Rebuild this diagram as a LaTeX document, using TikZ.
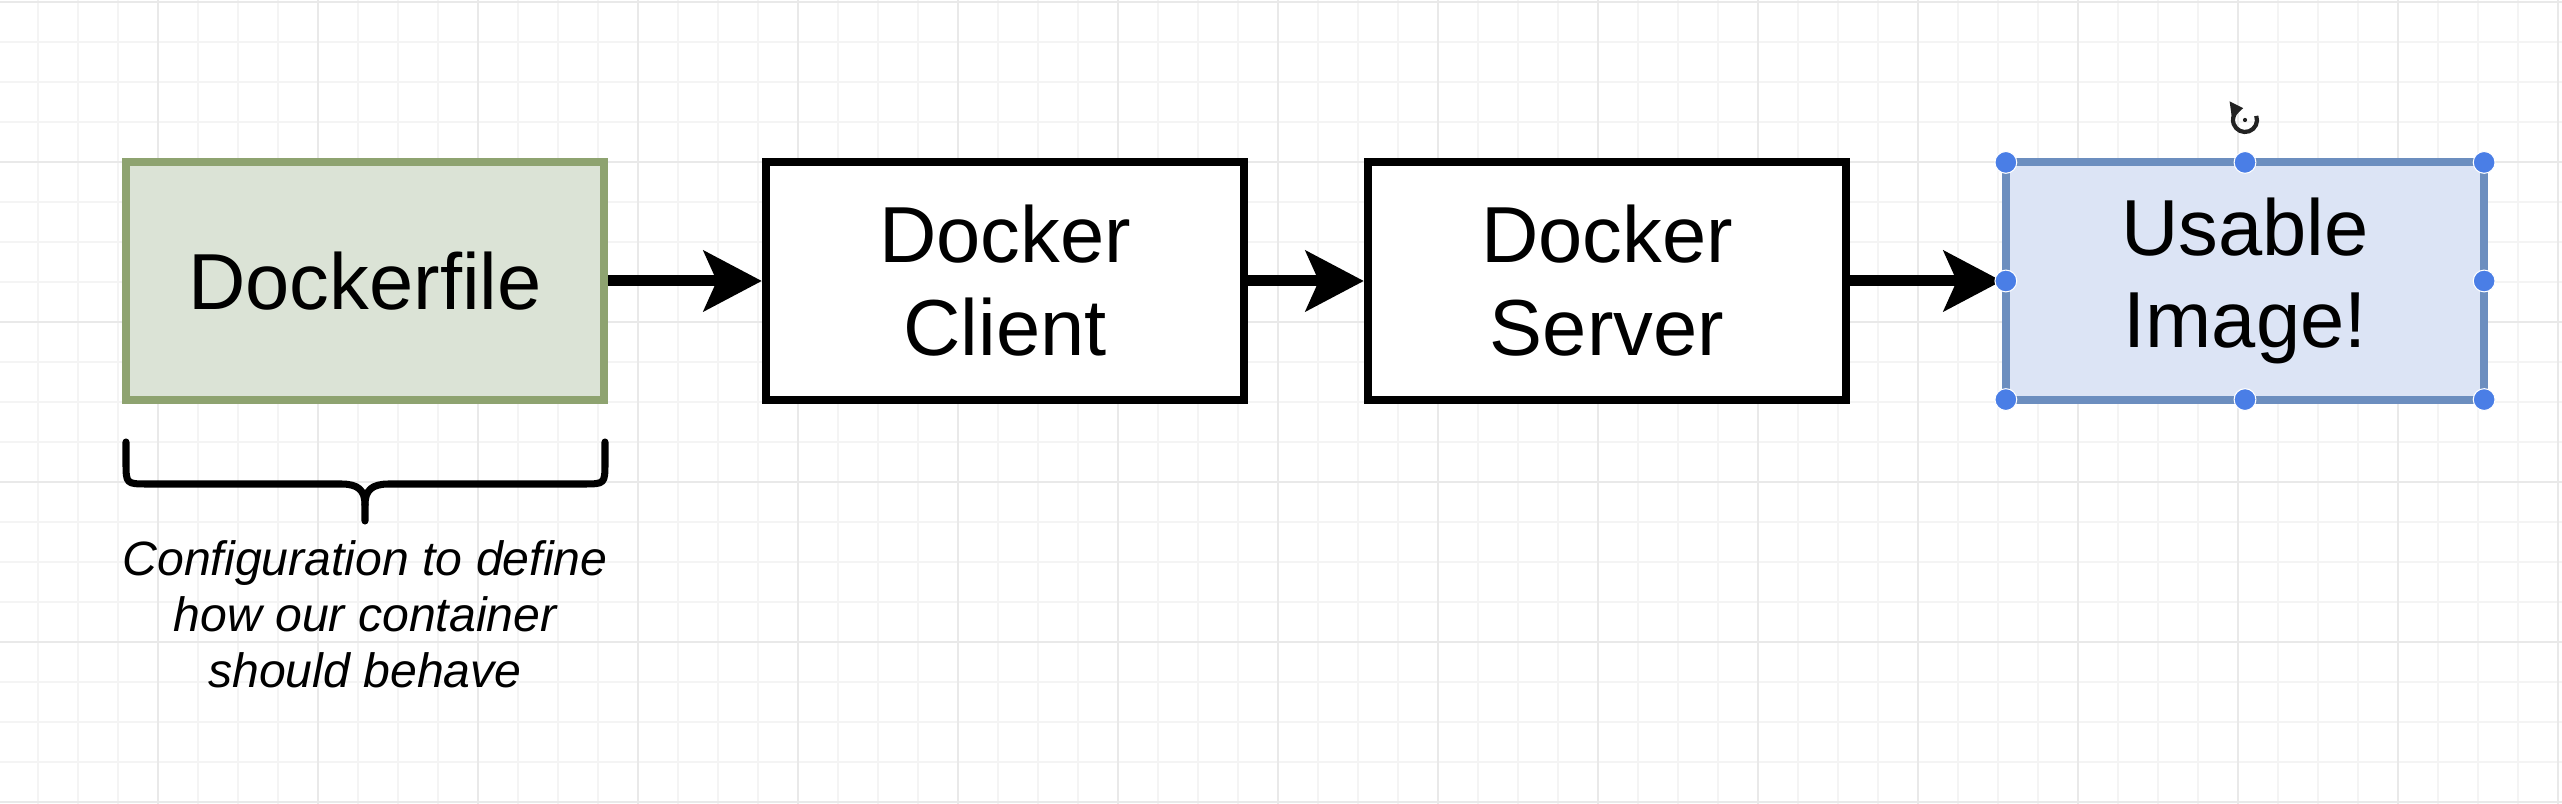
\documentclass[tikz,border=0pt]{standalone}
\usepackage{fontspec}
\setmainfont{Liberation Sans}
\usetikzlibrary{arrows.meta}
\definecolor{gridminor}{HTML}{F4F4F4}
\definecolor{gridmajor}{HTML}{E9E9E9}
\definecolor{greenfill}{HTML}{DBE3D6}
\definecolor{greenline}{HTML}{8EA370}
\definecolor{bluefill}{HTML}{DCE4F5}
\definecolor{blueline}{HTML}{6C8EBF}
\definecolor{handlecol}{HTML}{4A7EE6}
\definecolor{iconcol}{HTML}{222222}
\begin{document}
\begin{tikzpicture}[x=0.01cm,y=-0.01cm,
  box/.style={draw=black, fill=white, line width=2.28pt, minimum width=4.78cm,
    minimum height=2.37cm, inner sep=0pt, align=center,
    font=\fontsize{22.6pt}{26.4pt}\selectfont},
  greenbox/.style={box, draw=greenline, fill=greenfill},
  bluebox/.style={box, draw=blueline, fill=bluefill},
  flow/.style={line width=3.13pt, -{Stealth[length=16.5pt,width=17.1pt,inset=3.7pt]}},
  bracepath/.style={line width=2pt, line cap=round, line join=round},
  caption/.style={inner sep=0pt, align=center,
    font=\fontsize{13.7pt}{15.9pt}\selectfont\itshape},
  handledot/.style={circle, fill=handlecol, draw=white, line width=0.3pt,
    minimum size=6.2pt, inner sep=0pt},
  minorline/.style={draw=gridminor, line width=0.43pt},
  majorline/.style={draw=gridmajor, line width=0.43pt}
]
\useasboundingbox (0,0) rectangle (2562,804);
\fill[white] (0,0) rectangle (2562,804);
% grid
\foreach \x in {38,78,...,2558} \draw[minorline] (\x,0) -- (\x,804);
\foreach \y in {2,42,...,802} \draw[minorline] (0,\y) -- (2562,\y);
\foreach \x in {158,318,...,2558} \draw[majorline] (\x,0) -- (\x,804);
\foreach \y in {2,162,...,802} \draw[majorline] (0,\y) -- (2562,\y);

% boxes
\node[greenbox] (df) at (365,281) {Dockerfile};
\node[box] (cl) at (1005,281) {Docker\\Client};
\node[box] (sv) at (1607,281) {Docker\\Server};
\node[bluebox] (ui) at (2245,281) {Usable\\Image!};

% arrows
\draw[flow] (df.east) -- (cl.west);
\draw[flow] (cl.east) -- (sv.west);
\draw[flow] (sv.east) -- (ui.west);

% brace
\coordinate (bl) at (126,442);
\coordinate (br) at (605,442);
\coordinate (bt) at (365,521);
\draw[bracepath] (bl) -- (126,462) .. controls (126,484) .. (148,484) -- (341,484)
  .. controls (358,484) and (365,490) .. (365,505) -- (bt);
\draw[bracepath] (br) -- (605,462) .. controls (605,484) .. (583,484) -- (389,484)
  .. controls (372,484) and (365,490) .. (365,505);

% caption
\node[caption] (cap) at (365,614) {Configuration to define\\how our container\\should behave};

% selection handles
\foreach \a/\s in {north west/{(4,4)}, north/{(0,4)}, north east/{(-4,4)},
                   west/{(4,0)}, east/{(-4,0)},
                   south west/{(4,-4)}, south/{(0,-4)}, south east/{(-4,-4)}}
  \node[handledot] at ([shift=\s]ui.\a) {};

% rotation icon (y axis points down, so angles are mirrored)
\coordinate (rot) at (2245,120);
\draw[iconcol, line width=1.2pt, -{Triangle[length=3.6pt,width=4.6pt]}]
  ([shift={(-20:12)}]rot) arc[start angle=-20, end angle=262, radius=12];
\fill[iconcol] (rot) circle (0.6pt);
\end{tikzpicture}
\end{document}
